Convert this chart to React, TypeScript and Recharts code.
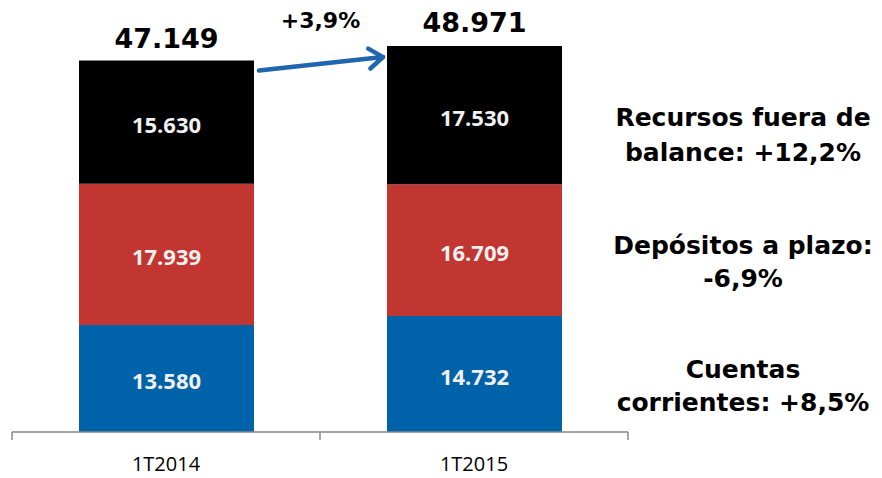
import React from 'react';
import { BarChart, Bar, XAxis, YAxis, LabelList } from 'recharts';

const categories = ['1T2014', '1T2015'];
const cuentasCorrientes = [13580, 14732];
const depositosPlazo = [17939, 16709];
const recursosFuera = [15630, 17530];
const totals = [47149, 48971];
const growthLabel = '+3,9%';
const notesCuentas = ['Cuentas', 'corrientes: +8,5%'];
const notesDepositos = ['Depósitos a plazo:', '-6,9%'];
const notesRecursos = ['Recursos fuera de', 'balance: +12,2%'];

const data = categories.map((c, i) => ({
  name: c,
  cuentas: cuentasCorrientes[i],
  depositos: depositosPlazo[i],
  recursos: recursosFuera[i],
  total: totals[i],
}));

const W = 882;
const H = 478;
const M = { top: 38, right: 254, left: 12, bottom: 0 };
const BAND = (W - M.left - M.right) / categories.length;
const BAR = 175;

const fmt = (v: number) => {
  const s = String(Math.round(v));
  return s.replace(/\B(?=(\d{3})+(?!\d))/g, '.');
};

const BOLD = '"DejaVu Sans", Verdana, sans-serif';
const CAL = '"Open Sans", "Noto Sans", sans-serif';

const makeSegLabel = (notes: string[], firstOffset: number) => (props: any) => {
  const { x, y, width, height, value, index } = props;
  const cx = x + width / 2;
  const cy = y + height / 2;
  return (
    <g>
      <text x={cx} y={cy + 2} textAnchor="middle" dominantBaseline="central" fill="#F0F0F0"
        fontFamily={CAL} fontWeight="bold" fontSize={22}>{fmt(value)}</text>
      {index === 1 && notes.map((t, i) => (
        <text key={i} x={x + width + 181} y={cy + firstOffset + i * 33} textAnchor="middle"
          dominantBaseline="central" fill="#000" fontFamily={BOLD} fontWeight="bold" fontSize={25}>{t}</text>
      ))}
    </g>
  );
};

const TopLabel = (props: any) => {
  const { x, y, width, height, value, index } = props;
  const cx = x + width / 2;
  const k = height / value;
  const baseline = y + height + (cuentasCorrientes[index] + depositosPlazo[index]) * k;
  const els: any[] = [];
  els.push(
    <text key="seg" x={cx} y={y + height / 2 + 2} textAnchor="middle" dominantBaseline="central"
      fill="#F0F0F0" fontFamily={CAL} fontWeight="bold" fontSize={22}>{fmt(value)}</text>
  );
  els.push(
    <text key="tot" x={cx} y={y - 22 - index * 2} textAnchor="middle" dominantBaseline="central"
      fill="#000" fontFamily={BOLD} fontWeight="bold" fontSize={27}>{fmt(totals[index])}</text>
  );
  if (index === 1) {
    notesRecursos.forEach((t, i) => {
      els.push(
        <text key={'n' + i} x={x + width + 181} y={y + height / 2 + 2 + i * 35} textAnchor="middle"
          dominantBaseline="central" fill="#000" fontFamily={BOLD} fontWeight="bold" fontSize={25}>{t}</text>
      );
    });
  }
  if (index === 0) {
    const gap = BAND - width;
    const x1 = x + width + 5;
    const y1 = y + 10;
    const x2 = x + width + gap - 4;
    const y2 = baseline - totals[1] * k + 11;
    const ang = Math.atan2(y2 - y1, x2 - x1);
    const L = 17;
    const a1 = ang + Math.PI * 0.8;
    const a2 = ang - Math.PI * 0.8;
    els.push(
      <g key="arrow" stroke="#1F66AE" strokeWidth={4.5} fill="none" strokeLinecap="round" strokeLinejoin="round">
        <line x1={x1} y1={y1} x2={x2} y2={y2} />
        <polyline points={`${x2 + L * Math.cos(a1)},${y2 + L * Math.sin(a1)} ${x2},${y2} ${x2 + L * Math.cos(a2)},${y2 + L * Math.sin(a2)}`} />
      </g>
    );
    els.push(
      <text key="g" x={x + width + gap / 2} y={20} textAnchor="middle" dominantBaseline="central"
        fill="#000" fontFamily={BOLD} fontWeight="bold" fontSize={22}>{growthLabel}</text>
    );
  }
  return <g>{els}</g>;
};

const Tick = (props: any) => {
  const { x, y, payload, index } = props;
  const left = x - BAND / 2;
  const right = x + BAND / 2;
  return (
    <g>
      <line x1={left} y1={y - 8} x2={left} y2={y} stroke="#878787" strokeWidth={1.5} />
      {index === categories.length - 1 && (
        <line x1={right} y1={y - 8} x2={right} y2={y} stroke="#878787" strokeWidth={1.5} />
      )}
      <text x={x} y={y + 23} textAnchor="middle" dominantBaseline="central" fill="#000"
        fontFamily={CAL} fontSize={20}>{payload.value}</text>
    </g>
  );
};

export default function App() {
  return (
    <div style={{ position: 'absolute', left: 0, top: 0, width: W, height: H, background: '#fff' }}>
      <BarChart width={W} height={H} data={data} margin={M} barSize={BAR}>
        <YAxis hide domain={[0, 50000]} />
        <XAxis dataKey="name" height={46} tickLine={false} axisLine={{ stroke: '#878787', strokeWidth: 1.5 }}
          tick={<Tick />} interval={0} />
        <Bar dataKey="cuentas" stackId="a" fill="#0062A8" isAnimationActive={false}>
          <LabelList dataKey="cuentas" content={makeSegLabel(notesCuentas, -4)} />
        </Bar>
        <Bar dataKey="depositos" stackId="a" fill="#C23631" isAnimationActive={false}>
          <LabelList dataKey="depositos" content={makeSegLabel(notesDepositos, -5)} />
        </Bar>
        <Bar dataKey="recursos" stackId="a" fill="#000000" isAnimationActive={false}>
          <LabelList dataKey="recursos" content={TopLabel} />
        </Bar>
      </BarChart>
    </div>
  );
}
